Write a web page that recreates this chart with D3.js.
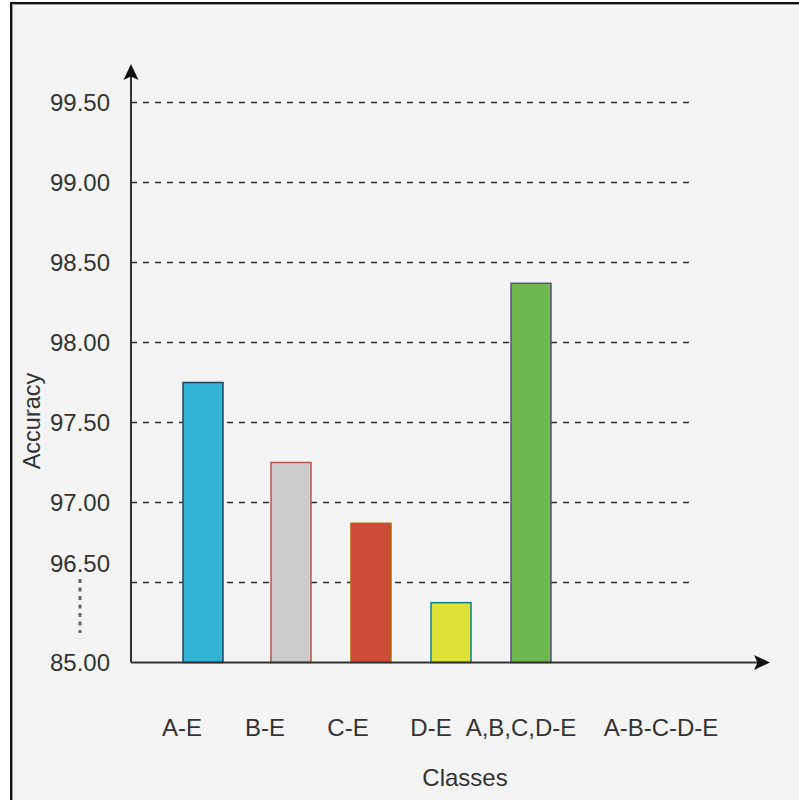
<!DOCTYPE html>
<html>
<head>
<meta charset="utf-8">
<script src="https://cdn.jsdelivr.net/npm/d3@7"></script>
<style>
  html, body { margin: 0; padding: 0; background: #ffffff; }
  svg { display: block; }
  text { font-family: "Liberation Sans", Arial, Helvetica, sans-serif; fill: #333333; }
</style>
</head>
<body>
<svg id="chart" width="799" height="800"></svg>
<script>
// Accuracy per class combination
const categories = ["A-E", "B-E", "C-E", "D-E", "A,B,C,D-E", "A-B-C-D-E"];
const accuracy = [97.75, 97.25, 96.87, 93.6, 98.37, null];
const barFills = ["#32b2d4", "#cccccc", "#cc4b39", "#dee236", "#6fb84f"];
const barStrokes = ["#23445d", "#b85450", "#b46504", "#0e8088", "#56517e"];
const yTicks = [85, 96.5, 97, 97.5, 98, 98.5, 99, 99.5];

const svg = d3.select("#chart");
const axisColor = "#333333";

// Canvas frame
svg.append("rect")
  .attr("x", 11).attr("y", 3).attr("width", 820).attr("height", 820)
  .attr("fill", "#f4f4f4").attr("stroke", "#111").attr("stroke-width", 2);
svg.append("path")
  .attr("d", "M12.5,820V4.5H820")
  .attr("fill", "none").attr("stroke", "#9a9a9a").attr("stroke-width", 1);

// Broken value axis: 85 → 96.5 is compressed into one step
const y = d3.scaleLinear()
  .domain([85, 96.5, 99.5])
  .range([662.5, 582.5, 102.5]);

// Bar centres and category label positions
const xBar = d3.scaleLinear().domain([0, 1, 4]).range([203, 291, 531]);
const xLabel = d3.scaleLinear().domain([0, 3, 4, 5]).range([182, 431, 521, 661]);
const barWidth = 40;
const axisX = 131, gridEnd = 690, xAxisEnd = 770, yAxisTop = 64;

// Dashed gridlines
svg.append("g").selectAll("line")
  .data(yTicks.filter(t => t !== 85))
  .join("line")
  .attr("x1", axisX).attr("x2", gridEnd)
  .attr("y1", d => y(d)).attr("y2", d => y(d))
  .attr("stroke", "#2a2a2a").attr("stroke-width", 1.6)
  .attr("stroke-dasharray", "6,6");

// Bars
const bars = categories.map((c, i) => ({ c, i, v: accuracy[i] })).filter(d => d.v != null);
svg.append("g").selectAll("rect")
  .data(bars)
  .join("rect")
  .attr("x", d => xBar(d.i) - barWidth / 2)
  .attr("width", barWidth)
  .attr("y", d => y(d.v))
  .attr("height", d => y.range()[0] - y(d.v))
  .attr("fill", d => barFills[d.i])
  .attr("stroke", d => barStrokes[d.i])
  .attr("stroke-width", 1.5);

// Tick labels along the value axis
const yAxis = svg.append("g")
  .attr("transform", `translate(${axisX},0)`)
  .call(d3.axisLeft(y).tickValues(yTicks).tickFormat(d3.format(".2f")).tickSize(0).tickPadding(21));
yAxis.select(".domain").remove();
yAxis.selectAll("text")
  .attr("font-size", 24)
  .attr("font-family", "\"Liberation Sans\", Arial, Helvetica, sans-serif")
  .attr("fill", "#333")
  .attr("dy", d => d === 96.5 ? "-0.46em" : "0.35em");

// Axis break marker between 85.00 and 96.50
svg.append("line")
  .attr("x1", 80).attr("x2", 80)
  .attr("y1", 579).attr("y2", 633)
  .attr("stroke", "#666").attr("stroke-width", 3)
  .attr("stroke-dasharray", "4,4.5");

// Axis lines with arrowheads
svg.append("path")
  .attr("d", `M${axisX},${y.range()[0]}V${yAxisTop + 12}M${axisX},${y.range()[0]}H${xAxisEnd - 12}`)
  .attr("fill", "none").attr("stroke", axisColor).attr("stroke-width", 2);
svg.append("path")
  .attr("d", `M${axisX},${yAxisTop}L${axisX - 7.5},${yAxisTop + 16}L${axisX},${yAxisTop + 12.5}L${axisX + 7.5},${yAxisTop + 16}Z`)
  .attr("fill", "#111");
const ay = y.range()[0];
svg.append("path")
  .attr("d", `M${xAxisEnd},${ay}L${xAxisEnd - 16},${ay - 7.5}L${xAxisEnd - 12.5},${ay}L${xAxisEnd - 16},${ay + 7.5}Z`)
  .attr("fill", "#111");

// Category labels
svg.append("g").selectAll("text")
  .data(categories)
  .join("text")
  .attr("x", (d, i) => xLabel(i))
  .attr("y", 736)
  .attr("text-anchor", "middle")
  .attr("font-size", 24)
  .text(d => d);

// Axis titles
svg.append("text")
  .attr("x", 465).attr("y", 786)
  .attr("text-anchor", "middle")
  .attr("font-size", 24)
  .text("Classes");
svg.append("text")
  .attr("transform", "translate(40,421) rotate(-90)")
  .attr("text-anchor", "middle")
  .attr("font-size", 23.5)
  .text("Accuracy");
</script>
</body>
</html>
